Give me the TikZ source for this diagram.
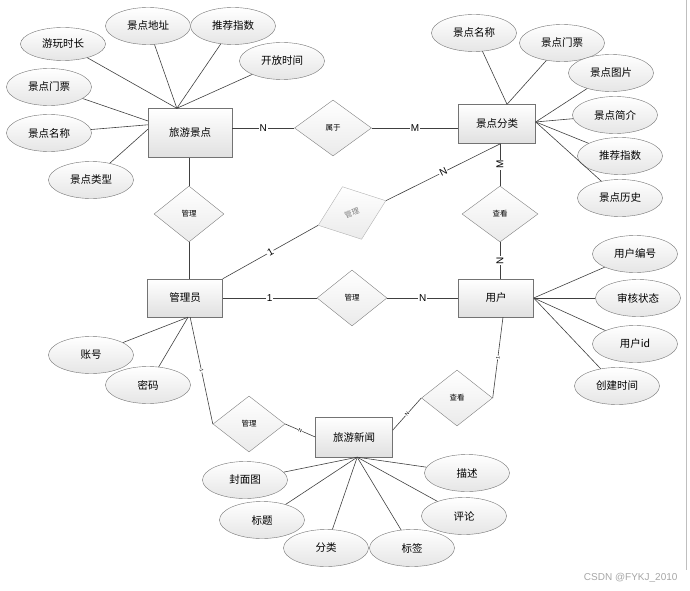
\documentclass[tikz,border=0pt]{standalone}
\usepackage{fontspec}
\setmainfont{Liberation Sans}
\newfontfamily\cjk{Noto Sans CJK SC}
\usepackage{tikz}
\usetikzlibrary{shapes.geometric}

\begin{document}
\begin{tikzpicture}[x=1pt,y=-1pt,
  entity/.style={draw=black!55, rectangle, top color=white, bottom color=black!12, minimum width=77pt, minimum height=39pt, inner sep=0pt, font=\cjk\fontsize{10.5}{12}\selectfont},
  attr/.style={draw=black!55, ellipse, top color=white, bottom color=black!10, minimum width=85pt, minimum height=37pt, inner sep=0pt, font=\cjk\fontsize{10.5}{12}\selectfont},
  rel/.style={draw=black!50, diamond, top color=white, bottom color=black!8, minimum width=72pt, minimum height=56pt, inner sep=0pt, font=\cjk\fontsize{7.5}{9}\selectfont},
  link/.style={draw=black!75, line width=0.6pt},
  card/.style={fill=white, inner sep=0.8pt, font=\fontsize{10}{11}\selectfont},
  tick/.style={fill=white, inner sep=0.4pt, sloped, font=\fontsize{5}{6}\selectfont}]
\useasboundingbox (0,0) rectangle (690,591);
% \draw[thin, color=red!28, step=50] (0,0) grid (690,591);
\draw[black!25] (686.5,0) -- (686.5,570);

% entities
\node[entity, minimum width=84pt, minimum height=49pt] (lvjd) at (190,133) {旅游景点};
\node[entity] (jdfl) at (497,124) {景点分类};
\node[entity, minimum width=75pt, minimum height=38pt] (gly) at (185,298) {管理员};
\node[entity, minimum width=75pt, minimum height=38pt] (yh) at (496,298) {用户};
\node[entity, minimum height=40pt] (lyxw) at (354,437) {旅游新闻};

% relations
\node[rel, minimum width=77pt] (shuyu) at (333,128) {属于};
\node[rel, minimum width=70pt] (gl1) at (189,214) {管理};
\node[rel, rotate=20, draw=black!30, text=black!50] (gl2) at (352,213) {管理};
\node[rel, minimum width=76pt] (ck1) at (500,214) {查看};
\node[rel, minimum width=70pt] (gl3) at (352,298) {管理};
\node[rel] (gl4) at (249,424) {管理};
\node[rel, minimum width=71pt] (ck2) at (457,398) {查看};

% attributes
\node[attr, minimum height=33pt] (ywsc) at (63,44) {游玩时长};
\node[attr] (jddz) at (148,26) {景点地址};
\node[attr] (tjzs) at (233,26) {推荐指数};
\node[attr] (kfsj) at (282,61) {开放时间};
\node[attr] (jdmp) at (49,87) {景点门票};
\node[attr] (jdmc) at (49,133) {景点名称};
\node[attr] (jdlx) at (91,180) {景点类型};

\node[attr] (flmc) at (474,33) {景点名称};
\node[attr] (flmp) at (562,43) {景点门票};
\node[attr] (fltp) at (611,73) {景点图片};
\node[attr] (fljj) at (615,115) {景点简介};
\node[attr] (fltj) at (620,156) {推荐指数};
\node[attr] (flls) at (620,198) {景点历史};

\node[attr] (yhbh) at (635,254) {用户编号};
\node[attr] (shzt) at (638,298) {审核状态};
\node[attr] (yhid) at (635,344) {用户id};
\node[attr] (cjsj) at (617,386) {创建时间};

\node[attr] (zh) at (91,355) {账号};
\node[attr] (mm) at (148,385) {密码};

\node[attr] (fmt) at (245,480) {封面图};
\node[attr] (bt) at (262,520) {标题};
\node[attr] (fl) at (326,548) {分类};
\node[attr] (bq) at (412,548) {标签};
\node[attr] (pl) at (464,516) {评论};
\node[attr] (ms) at (467,473) {描述};

% attribute links
\foreach \a in {ywsc,jddz,tjzs,kfsj} \draw[link] (\a) -- (lvjd.118);
\draw[link] (jdmp) -- (lvjd.164);
\draw[link] (jdmc) -- (lvjd.169);
\draw[link] (jdlx) -- (lvjd.175);
\foreach \a in {flmc,flmp} \draw[link] (\a) -- (jdfl.63);
\foreach \a in {fltp,fljj,fltj,flls} \draw[link] (\a) -- (jdfl.3);
\foreach \a in {yhbh,shzt,yhid,cjsj} \draw[link] (\a) -- (yh.east);
\foreach \a in {zh,mm} \draw[link] (\a) -- (gly.-81);
\foreach \a in {fmt,bt,fl,bq,pl,ms} \draw[link] (\a) -- (lyxw.-81);

% relation links
\draw[link] (shuyu.west -| lvjd.east) -- node[card]{N} (shuyu.west);
\draw[link] (shuyu.east) -- node[card]{M} (shuyu.east -| jdfl.west);
\draw[link] (lvjd.south -| gl1) -- (gl1.north);
\draw[link] (gl1.south) -- (gl1.south |- gly.north);
\draw[link] (gly.north east) -- node[card, sloped]{1} (gl2.west);
\draw[link] (gl2.east) -- node[card, sloped]{N} (jdfl.-80);
\draw[link] (ck1.north |- jdfl.south) -- node[card, rotate=90]{M} (ck1.north);
\draw[link] (ck1.south) -- node[card, rotate=90]{N} (ck1.south |- yh.north);
\draw[link] (gly.east) -- node[card]{1} (gl3.west);
\draw[link] (gl3.east) -- node[card]{N} (yh.west);
\draw[link] (gly.-75) -- node[tick]{1} (gl4.west);
\draw[link] (gl4.east) -- node[tick]{N} (lyxw.west);
\draw[link] (lyxw.10) -- node[tick]{N} (ck2.west);
\draw[link] (ck2.east) -- node[tick]{1} (yh.-70);

\node[text=black!35, font=\fontsize{10}{12}\selectfont, anchor=east] (wm) at (681,578) {CSDN @FYKJ\_2010};
\end{tikzpicture}
\end{document}
